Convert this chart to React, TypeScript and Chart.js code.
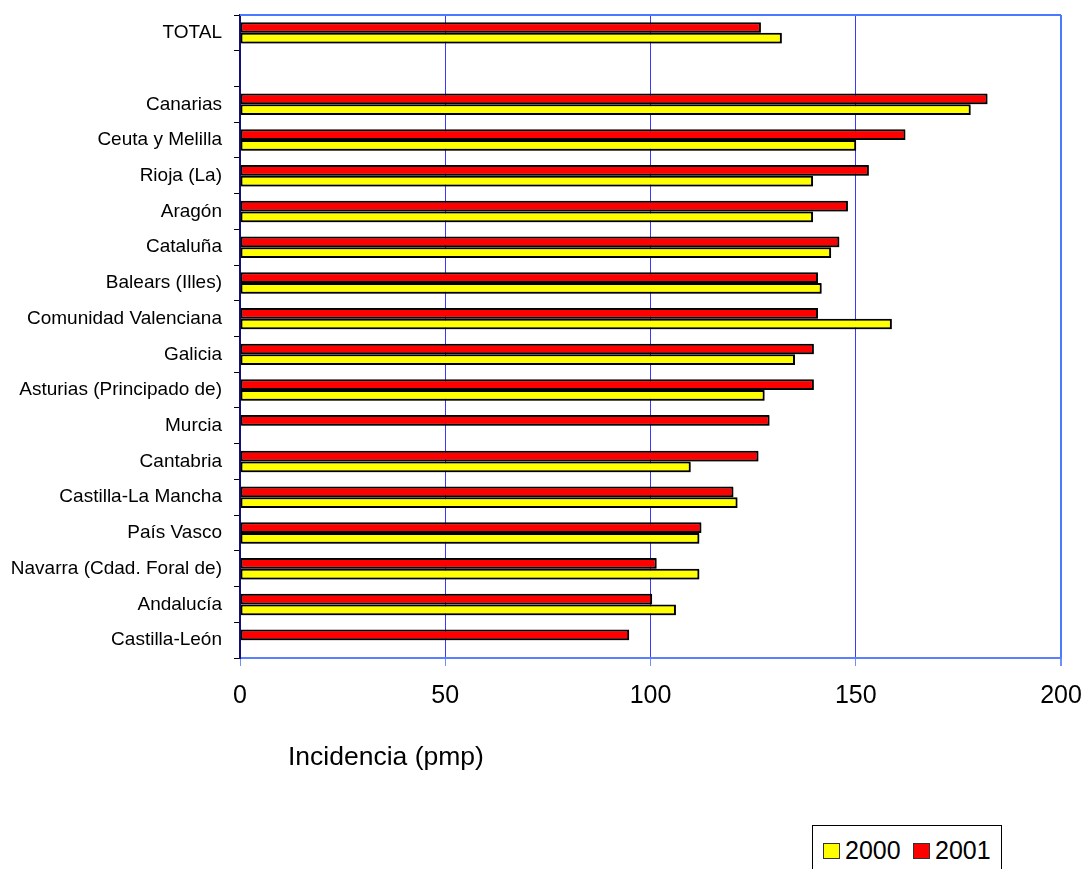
import React, { useEffect, useRef } from "react";
import { Chart, registerables } from "chart.js";

Chart.register(...registerables);

const categories = [
  "TOTAL",
  "",
  "Canarias",
  "Ceuta y Melilla",
  "Rioja (La)",
  "Aragón",
  "Cataluña",
  "Balears (Illes)",
  "Comunidad Valenciana",
  "Galicia",
  "Asturias (Principado de)",
  "Murcia",
  "Cantabria",
  "Castilla-La Mancha",
  "País Vasco",
  "Navarra (Cdad. Foral de)",
  "Andalucía",
  "Castilla-León",
];

const values2001 = [
  126.9, null, 182.1, 162.1, 153.2, 148.1, 146.0, 140.8, 140.8, 139.8, 139.8,
  129.0, 126.3, 120.2, 112.4, 101.5, 100.4, 94.8,
];

const values2000 = [
  132.0, null, 178.0, 150.1, 139.6, 139.6, 144.0, 141.7, 158.8, 135.2, 127.8,
  null, 109.8, 121.2, 111.9, 111.9, 106.2, null,
];

const xTicks = [0, 50, 100, 150, 200];

const FONT = "'Liberation Sans', Arial, Helvetica, sans-serif";

const frameTop = {
  id: "frameTop",
  beforeDatasetsDraw(chart: any) {
    const ctx = chart.ctx;
    ctx.save();
    ctx.shadowColor = "rgba(0,0,0,0.35)";
    ctx.shadowOffsetX = 1;
    ctx.shadowOffsetY = 1;
    ctx.shadowBlur = 1;
  },
  afterDatasetsDraw(chart: any) {
    chart.ctx.restore();
  },
  afterDraw(chart: any) {
    const { ctx, chartArea } = chart;
    ctx.save();
    ctx.strokeStyle = "#4a78ff";
    ctx.lineWidth = 2;
    ctx.beginPath();
    ctx.moveTo(chartArea.left, chartArea.top);
    ctx.lineTo(chartArea.right, chartArea.top);
    ctx.stroke();
    ctx.restore();
  },
};

export default function App() {
  const ref = useRef<HTMLCanvasElement | null>(null);

  useEffect(() => {
    if (!ref.current) return;
    const chart = new Chart(ref.current, {
      type: "bar",
      data: {
        labels: categories,
        datasets: [
          {
            label: "2001",
            data: values2001,
            backgroundColor: "#ff0000",
            borderColor: "#000000",
            borderWidth: 2,
            borderSkipped: false,
          },
          {
            label: "2000",
            data: values2000,
            backgroundColor: "#ffff00",
            borderColor: "#000000",
            borderWidth: 2,
            borderSkipped: false,
          },
        ],
      },
      options: {
        indexAxis: "y",
        animation: false,
        responsive: false,
        maintainAspectRatio: false,
        devicePixelRatio: 1,
        datasets: {
          bar: { categoryPercentage: 0.6, barPercentage: 1.0 },
        },
        layout: { padding: { top: 15, right: 28, bottom: 0, left: 0 } },
        plugins: {
          legend: { display: false },
          tooltip: { enabled: false },
        },
        scales: {
          x: {
            type: "linear",
            min: 0,
            max: 200,
            afterBuildTicks: (s: any) => {
              s.ticks = xTicks.map((v) => ({ value: v }));
            },
            afterFit: (s: any) => {
              s.height = 869 - 658;
              s.paddingLeft = 0;
              s.paddingRight = 0;
            },
            ticks: {
              color: "#000",
              font: { family: FONT, size: 25 },
              padding: 15,
            },
            grid: {
              color: (c: any) => (c.tick && c.tick.value === 200 ? "#4a78ff" : "#3a3aff"),
              lineWidth: (c: any) => (c.tick && c.tick.value === 200 ? 2 : 1),
              tickColor: "#6f8fff",
              tickLength: 8,
              drawTicks: true,
            },
            border: { color: "#5a80ff", width: 2 },
          },
          y: {
            type: "category",
            afterFit: (s: any) => {
              s.width = 240;
              s.paddingTop = 0;
              s.paddingBottom = 0;
            },
            ticks: {
              color: "#000",
              font: { family: FONT, size: 19 },
              padding: 12,
              autoSkip: false,
            },
            grid: {
              offset: true,
              drawOnChartArea: false,
              drawTicks: true,
              tickLength: 6,
              color: "#000",
            },
            border: { color: "#10107a", width: 2 },
          },
        },
      },
      plugins: [frameTop],
    });
    return () => chart.destroy();
  }, []);

  return (
    <div
      style={{
        position: "absolute",
        left: 0,
        top: 0,
        width: 1089,
        height: 869,
        overflow: "hidden",
        background: "#fff",
        fontFamily: FONT,
      }}
    >
      <canvas ref={ref} width={1089} height={869} style={{ position: "absolute", left: 0, top: 0 }} />
      <div
        style={{
          position: "absolute",
          left: 288,
          top: 743,
          fontSize: 26.5,
          lineHeight: "26px",
          color: "#000",
          whiteSpace: "nowrap",
        }}
      >
        Incidencia (pmp)
      </div>
      <div
        style={{
          position: "absolute",
          left: 812,
          top: 825,
          width: 190,
          height: 60,
          border: "1px solid #000",
          boxSizing: "border-box",
          background: "#fff",
        }}
      >
        <div
          style={{
            position: "absolute",
            left: 10,
            top: 17,
            width: 15,
            height: 14,
            background: "#ffff00",
            border: "1px solid #333",
          }}
        />
        <div
          style={{
            position: "absolute",
            left: 32,
            top: 12,
            fontSize: 25,
            lineHeight: "25px",
            color: "#000",
          }}
        >
          2000
        </div>
        <div
          style={{
            position: "absolute",
            left: 100,
            top: 17,
            width: 15,
            height: 14,
            background: "#ff0000",
            border: "1px solid #333",
          }}
        />
        <div
          style={{
            position: "absolute",
            left: 122,
            top: 12,
            fontSize: 25,
            lineHeight: "25px",
            color: "#000",
          }}
        >
          2001
        </div>
      </div>
    </div>
  );
}
